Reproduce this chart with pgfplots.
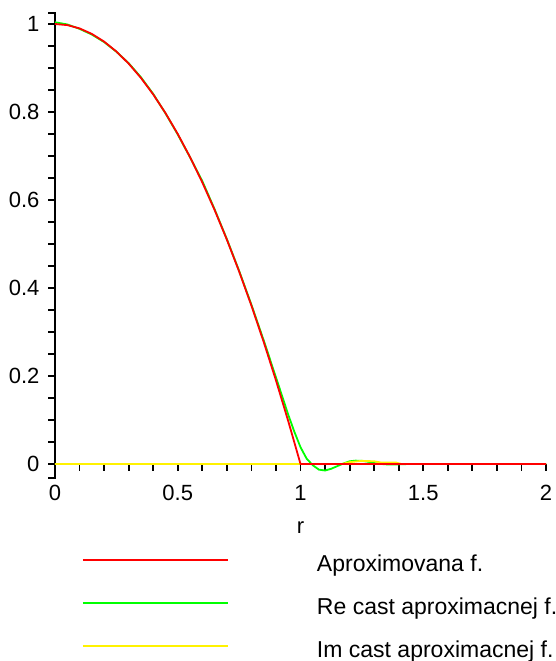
\documentclass[border=0pt]{standalone}
\usepackage{pgfplots}
\pgfplotsset{compat=1.18}
\usepackage{fontspec}
\setmainfont{Liberation Sans}
\begin{document}
\fontsize{22}{26}\selectfont
\begin{tikzpicture}
\begin{axis}[
  name=ax,
  scale only axis, width=491pt, height=465pt,
  xmin=0, xmax=2, ymin=-0.032, ymax=1.025,
  axis lines=middle,
  axis line style={-, line width=1.6pt, black},
  hide obscured x ticks=false,
  hide obscured y ticks=false,
  clip=false,
  xtick={0,0.5,1,1.5,2},
  xticklabels={0,0.5,1,1.5,2},
  ytick={0,0.2,0.4,0.6,0.8,1},
  yticklabels={0,0.2,0.4,0.6,0.8,1},
  major tick length=0pt,
  xticklabel style={font=\fontsize{22}{26}\selectfont, anchor=north, yshift=-14pt},
  yticklabel style={font=\fontsize{22}{26}\selectfont, anchor=east, xshift=-8pt},
  xlabel={r},
  xlabel style={at={(axis cs:1,0)}, anchor=center, yshift=-64pt, font=\fontsize{22}{26}\selectfont},
  legend cell align=left,
  legend image code/.code={\draw[#1, line width=2pt] (0pt,6pt) -- (145pt,6pt);},
  legend style={draw=none, fill=none, inner sep=0pt, outer sep=0pt,
    at={(axis cs:0,0)}, anchor=north west, xshift=27pt, yshift=-92pt,
    row sep=22pt,
    nodes={inner sep=0pt, text height=16pt, text depth=5pt, font=\fontsize{23}{27}\selectfont},
    /tikz/every odd column/.append style={column sep=88pt}},
]
\addlegendimage{color=red}
\addlegendentry{Aproximovana f.}
\addlegendimage{color=green}
\addlegendentry{Re cast aproximacnej f.}
\addlegendimage{color=yellow}
\addlegendentry{Im cast aproximacnej f.}

\pgfplotsinvokeforeach{0,0.1,0.2,0.3,0.4,0.5,0.6,0.7,0.8,0.9,1,1.1,1.2,1.3,1.4,1.5,1.6,1.7,1.8,1.9,2}{
  \draw[line width=1.8pt, black] (axis cs:#1,0) -- ([yshift=-7pt]axis cs:#1,0);}
\pgfplotsinvokeforeach{-0.032,0,0.05,0.1,0.15,0.2,0.25,0.3,0.35,0.4,0.45,0.5,0.55,0.6,0.65,0.7,0.75,0.8,0.85,0.9,0.95,1,1.025}{
  \draw[line width=1.8pt, black] ([xshift=0.8pt]axis cs:0,#1) -- ([xshift=-7pt]axis cs:0,#1);}

\addplot[forget plot, color=green, line width=1.8pt] coordinates {
(0,1.004) (0.05,0.999) (0.1,0.989) (0.15,0.976) (0.2,0.959) (0.25,0.937)
(0.3,0.911) (0.35,0.879) (0.4,0.841) (0.45,0.797) (0.5,0.749) (0.55,0.697)
(0.6,0.643) (0.65,0.579) (0.7,0.511) (0.75,0.439) (0.8,0.362) (0.85,0.281)
(0.9,0.197) (0.95,0.112) (0.975,0.073) (1.0,0.038) (1.025,0.012) (1.05,-0.003)
(1.075,-0.013) (1.1,-0.015) (1.125,-0.011) (1.15,-0.005) (1.175,0.001)
(1.2,0.006) (1.225,0.0075) (1.25,0.007) (1.275,0.005) (1.3,0.002) (1.325,0.0)
(1.35,-0.001) (1.4,-0.001) (1.45,0) (1.5,0) (2,0)};
\addplot[forget plot, color=yellow, line width=1.8pt] coordinates {
(0,0) (1.0,0) (1.17,0) (1.2,0.004) (1.25,0.007) (1.3,0.006) (1.33,0.003)
(1.39,0.003) (1.41,0) (2,0)};
\addplot[forget plot, color=red, line width=1.8pt] coordinates {
(0,1) (0.05,0.9975) (0.1,0.99) (0.15,0.9775) (0.2,0.96) (0.25,0.9375)
(0.3,0.91) (0.35,0.8775) (0.4,0.84) (0.45,0.7975) (0.5,0.75) (0.55,0.6975)
(0.6,0.64) (0.65,0.5775) (0.7,0.51) (0.75,0.4375) (0.8,0.36) (0.85,0.2775)
(0.9,0.19) (0.95,0.0975) (1,0) (2,0)};
\coordinate (sw) at (rel axis cs:0,0);
\end{axis}
\pgfresetboundingbox
\path[use as bounding box] ([xshift=-55pt,yshift=-183pt]sw) rectangle ([xshift=500pt,yshift=478pt]sw);
\end{tikzpicture}
\end{document}
